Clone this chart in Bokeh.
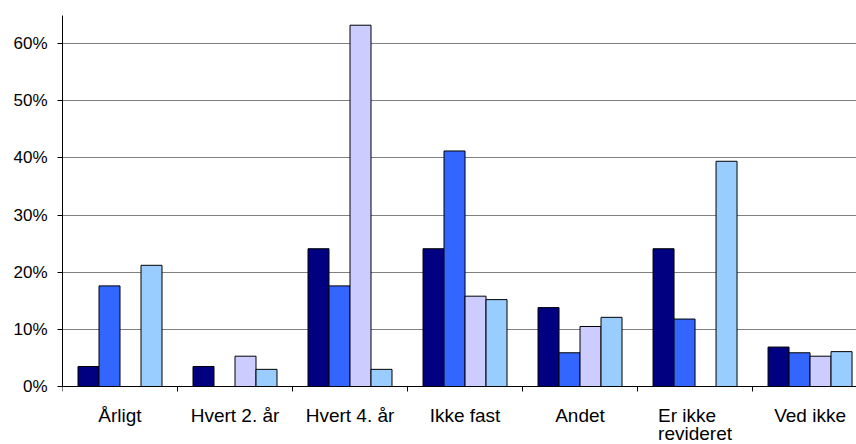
from bokeh.plotting import figure
from bokeh.models import Range1d, FixedTicker, NumeralTickFormatter, ColumnDataSource, LabelSet, Span
from bokeh.core.properties import value
from bokeh.embed import file_html
from bokeh.resources import INLINE

categories = ["Årligt", "Hvert 2. år", "Hvert 4. år", "Ikke fast", "Andet", "Er ikke\nrevideret", "Ved ikke"]
series1 = [0.035, 0.035, 0.241, 0.241, 0.138, 0.241, 0.069]
series2 = [0.176, 0.0, 0.176, 0.412, 0.059, 0.118, 0.059]
series3 = [0.0, 0.053, 0.632, 0.158, 0.105, 0.0, 0.053]
series4 = [0.212, 0.030, 0.030, 0.152, 0.121, 0.394, 0.061]
colors = ["#000080", "#3366FF", "#CCCCFF", "#99CCFF"]
y_ticks = [0, 0.1, 0.2, 0.3, 0.4, 0.5, 0.6]

n = len(categories)
bar_w = 0.1826
y_max = 0.649
px_per_unit = 371 / y_max          # vertical scale of the value axis
y_min = -58 / px_per_unit          # room below the zero line for category labels

p = figure(width=856, height=444, output_backend="svg", toolbar_location=None,
           x_range=Range1d(0, 6.904), y_range=Range1d(y_min, y_max),
           min_border_left=62, min_border_right=0, min_border_top=15, min_border_bottom=0)
p.outline_line_color = None
p.background_fill_color = "white"
p.border_fill_color = "white"

all_series = [series1, series2, series3, series4]
for k, (vals, col) in enumerate(zip(all_series, colors)):
    xs = [i + 0.5 + (k - 1.5) * bar_w for i in range(n)]
    src = ColumnDataSource(dict(x=xs, top=vals))
    p.vbar(x="x", top="top", bottom=0, width=bar_w, source=src,
           fill_color=col, line_color="black", line_width=1)

p.xgrid.visible = False
p.xaxis.visible = False
p.ygrid.grid_line_color = "#808080"
p.ygrid.grid_line_width = 1

p.yaxis.ticker = FixedTicker(ticks=y_ticks)
p.yaxis.bounds = (0, y_max)
p.yaxis.formatter = NumeralTickFormatter(format="0%")
p.yaxis.minor_tick_line_color = None
p.yaxis.major_tick_out = 5
p.yaxis.major_tick_in = 0
p.yaxis.major_label_standoff = 10
p.yaxis.axis_line_color = "black"
p.yaxis.major_tick_line_color = "black"
p.yaxis.major_label_text_font_size = "17px"
p.yaxis.major_label_text_font = "Liberation Sans"
p.yaxis.major_label_text_color = "black"

# category axis: baseline, boundary ticks and labels
p.add_layout(Span(location=0, dimension="width", line_color="black", line_width=1))
bounds = list(range(n + 1))
p.segment(x0=bounds, y0=[0] * (n + 1), x1=bounds, y1=[-5 / px_per_unit] * (n + 1),
          line_color="black", line_width=1)
lab_src = ColumnDataSource(dict(x=[i + 0.5 for i in range(n)],
                                y=[-18 / px_per_unit] * n, text=categories))
p.add_layout(LabelSet(x="x", y="y", text="text", source=lab_src, text_align="center",
                      text_baseline="top", text_font=value("Liberation Sans"),
                      text_font_size=value("19px"), text_color="black", text_line_height=0.9))

open("out.html", "w").write(file_html(p, INLINE))
